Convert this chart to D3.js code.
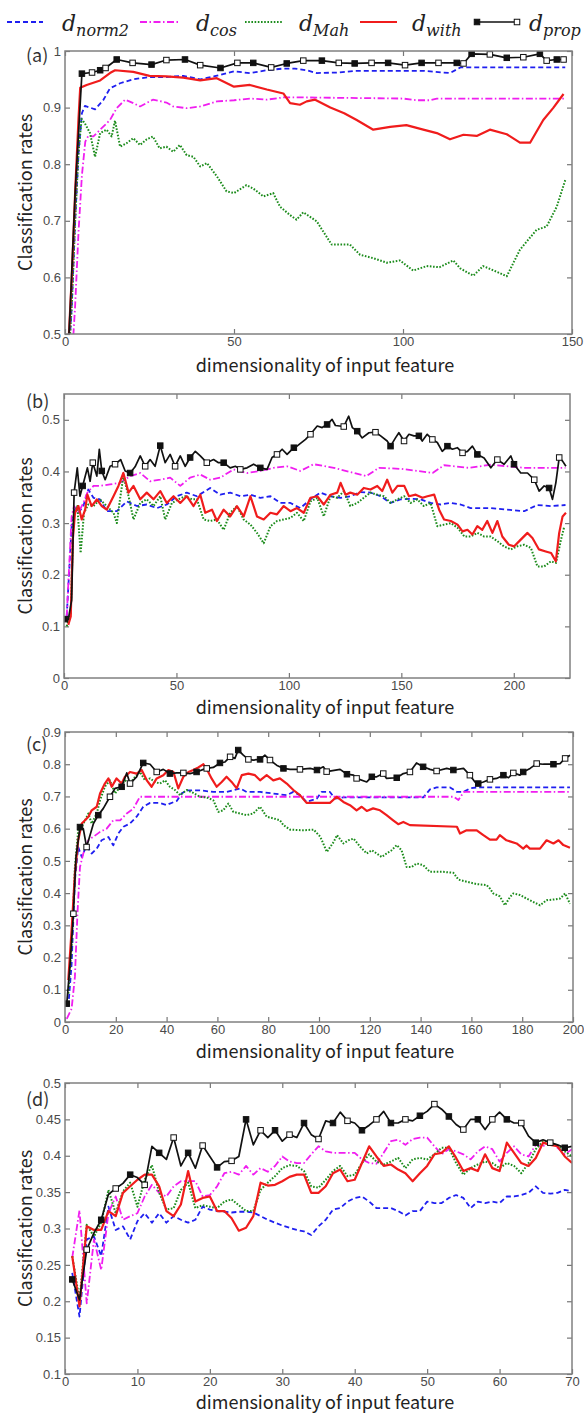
<!DOCTYPE html>
<html>
<head>
<meta charset="utf-8">
<script src="https://cdn.jsdelivr.net/npm/d3@7"></script>
<style>
  body { margin: 0; background: #fff; }
  svg { display: block; }
</style>
</head>
<body>
<div id="chart"></div>
<script>
// ---------- données ----------

// (a) : paires [dimension, taux]
const aNorm = [[1,0.45],[2,0.55],[3,0.7],[4,0.82],[5,0.89],[5.9,0.903],[8.9,0.897],[11.3,0.913],[13.3,0.934],[16.3,0.943],[20.2,0.95],[25,0.954],[30,0.954],[35,0.956],[40,0.95],[44,0.955],[50,0.964],[54.7,0.961],[59.7,0.966],[64.6,0.969],[68,0.969],[71.5,0.966],[74.5,0.961],[81,0.962],[86,0.965],[96,0.965],[106,0.965],[113.9,0.961],[117,0.971],[125.7,0.971],[148,0.971]];
const aCos = [[2,0.45],[3,0.55],[4,0.68],[5,0.78],[6,0.84],[6.9,0.85],[8.4,0.849],[10.4,0.861],[13.3,0.878],[15.3,0.899],[17.8,0.914],[20.2,0.908],[22.2,0.902],[26,0.914],[30,0.909],[32,0.902],[36,0.899],[40,0.902],[45,0.911],[50,0.913],[54.7,0.916],[59.7,0.914],[64.6,0.918],[70,0.918],[100,0.916],[104,0.913],[108,0.913],[110,0.916],[148,0.916]];
const aMah = [[1,0.45],[2,0.55],[3,0.7],[4,0.82],[4.9,0.88],[5.9,0.872],[7.4,0.855],[8.9,0.813],[10.4,0.855],[12.3,0.861],[13.8,0.849],[14.8,0.877],[16.3,0.831],[18.2,0.837],[20.2,0.846],[22.2,0.834],[24.2,0.844],[26,0.849],[28,0.828],[30,0.831],[32,0.822],[34,0.834],[36,0.816],[38,0.813],[40,0.796],[42,0.802],[45,0.778],[47.8,0.752],[50,0.749],[53.7,0.763],[55.7,0.757],[58.7,0.743],[61.6,0.749],[63.6,0.725],[66.6,0.71],[68.5,0.702],[70.5,0.715],[74.5,0.699],[76.4,0.681],[78.9,0.658],[84.3,0.658],[87.3,0.64],[91.2,0.634],[95.2,0.626],[99.1,0.63],[103,0.612],[107,0.62],[110.8,0.618],[114.9,0.63],[116.9,0.616],[120.8,0.603],[123.7,0.62],[127.7,0.61],[130.7,0.602],[134.6,0.649],[139.5,0.684],[142.5,0.69],[145.5,0.725],[148,0.772]];
const aWith = [[1,0.48],[2,0.6],[3,0.75],[4,0.88],[4.5,0.935],[6.4,0.94],[10.4,0.948],[13.3,0.961],[14.8,0.966],[20.2,0.963],[25,0.956],[30,0.955],[35,0.953],[40,0.948],[44.9,0.952],[50,0.937],[54.7,0.94],[59.7,0.932],[64.6,0.925],[66.6,0.908],[69.5,0.905],[71.5,0.911],[74,0.914],[78.5,0.9],[82.6,0.89],[86.3,0.878],[91.2,0.861],[96.2,0.866],[101,0.869],[106,0.861],[110,0.855],[113.9,0.844],[117.9,0.852],[121.8,0.85],[125.7,0.861],[130.7,0.853],[134.6,0.838],[137.6,0.838],[141.5,0.878],[144.4,0.899],[147.5,0.924]];
const aProp = [[1,0.48],[1.5,0.54],[3,0.75],[5,0.96],[8,0.962],[10.4,0.966],[12,0.97],[15.3,0.985],[20,0.979],[25.6,0.976],[30,0.984],[35.5,0.985],[40,0.975],[46,0.97],[51,0.979],[55.7,0.979],[61,0.971],[65.6,0.978],[70.5,0.983],[76,0.983],[81,0.979],[85.7,0.978],[90.7,0.979],[95.6,0.979],[100.6,0.975],[105.5,0.979],[110.5,0.979],[115.9,0.979],[117.9,0.978],[120.3,0.995],[125.7,0.994],[130.7,0.988],[135.6,0.989],[140.5,0.995],[142.5,0.983],[145.5,0.985],[147.5,0.985]];

// (b)
const bNorm = [[1.2,0.119],[3.4,0.294],[4.9,0.326],[6.4,0.32],[8.6,0.333],[10.8,0.365],[13.1,0.349],[16,0.346],[19,0.323],[23.5,0.323],[27.9,0.342],[32.4,0.333],[36.8,0.336],[41.3,0.329],[45.7,0.336],[50.2,0.352],[54.6,0.359],[59.1,0.352],[65,0.368],[69.5,0.355],[73.9,0.359],[78.4,0.352],[82.9,0.355],[87.3,0.349],[91.8,0.352],[96.2,0.339],[100.7,0.339],[105.1,0.329],[109.6,0.346],[114,0.359],[118.5,0.352],[123,0.349],[127.3,0.352],[131.8,0.36],[136.3,0.359],[140.8,0.352],[145.2,0.339],[149.6,0.346],[154,0.347],[158.6,0.346],[163,0.339],[167.5,0.336],[171.9,0.339],[176.3,0.336],[180.8,0.329],[189.8,0.329],[204.6,0.323],[210.5,0.335],[216.5,0.333],[223,0.335]];
const bCos = [[1.2,0.119],[3.4,0.313],[4.5,0.333],[6.4,0.32],[8.6,0.339],[10.4,0.359],[13.1,0.372],[16,0.372],[20.5,0.375],[24.9,0.378],[29.4,0.391],[33.9,0.397],[38.3,0.381],[42.8,0.384],[47.2,0.388],[51.7,0.372],[56.1,0.388],[60.6,0.394],[65,0.384],[69.5,0.388],[75.4,0.404],[81.4,0.397],[87.3,0.401],[93.2,0.407],[99.2,0.41],[105.1,0.401],[111,0.414],[120,0.407],[134.5,0.391],[140,0.407],[150,0.405],[163.9,0.397],[169,0.412],[180,0.407],[189.8,0.413],[204.6,0.407],[223,0.407]];
const bMah = [[1.2,0.1],[3,0.126],[4.2,0.313],[5.9,0.333],[7.4,0.242],[8.9,0.32],[10.8,0.336],[13.1,0.333],[16,0.346],[19,0.333],[22,0.32],[23.5,0.3],[24.9,0.346],[26.4,0.391],[28.7,0.352],[30.9,0.307],[33.9,0.339],[36.8,0.346],[39.8,0.333],[42.8,0.352],[45,0.307],[48,0.339],[50.9,0.346],[53.9,0.352],[56.9,0.346],[59.1,0.346],[62.1,0.307],[65,0.304],[68,0.307],[71,0.287],[73.9,0.32],[76.9,0.333],[79.9,0.307],[82.9,0.297],[85.8,0.281],[88.8,0.261],[91.8,0.294],[94.7,0.304],[97.7,0.307],[100.7,0.31],[103.6,0.32],[106.6,0.304],[109.6,0.342],[112.6,0.349],[115.5,0.313],[118.5,0.352],[121.5,0.349],[124.5,0.362],[127.3,0.333],[130.4,0.339],[133.3,0.349],[136.3,0.359],[139.3,0.355],[142.3,0.352],[145.2,0.339],[148.3,0.346],[151.3,0.352],[154.1,0.339],[157.1,0.346],[160,0.333],[163,0.339],[166,0.294],[169,0.297],[172,0.3],[175,0.291],[178,0.274],[180.8,0.274],[183.8,0.281],[186.8,0.274],[189.7,0.274],[192.7,0.265],[195.6,0.255],[198.7,0.249],[201.6,0.255],[204.6,0.258],[207.6,0.252],[210.5,0.216],[213.5,0.216],[216.5,0.226],[218.8,0.223],[221,0.268],[222.5,0.294]];
const bWith = [[1.9,0.103],[3,0.119],[3.9,0.268],[4.9,0.32],[6.4,0.333],[7.9,0.307],[9.4,0.326],[10.4,0.355],[12.3,0.333],[14.6,0.346],[16.8,0.333],[19,0.326],[22,0.352],[24.2,0.372],[26.4,0.397],[28.7,0.359],[30.9,0.372],[33.9,0.346],[36.8,0.359],[39.8,0.346],[42.8,0.362],[45.7,0.339],[48.7,0.352],[51.7,0.339],[54.6,0.352],[57.6,0.333],[60.6,0.355],[62.8,0.32],[65.8,0.326],[68,0.304],[71,0.326],[73.9,0.313],[76.9,0.333],[79.9,0.313],[82.9,0.352],[85.8,0.313],[88.8,0.307],[91.8,0.32],[94.7,0.317],[97.7,0.333],[100.7,0.323],[103.6,0.329],[106.6,0.32],[109.6,0.349],[112.6,0.352],[115.5,0.336],[118.5,0.355],[121.5,0.359],[123,0.378],[125.2,0.355],[127.3,0.359],[130.4,0.355],[133.3,0.368],[136.3,0.365],[139.3,0.372],[141.5,0.362],[143.7,0.384],[146,0.359],[148.3,0.372],[151.3,0.372],[153.4,0.352],[156.4,0.355],[159.4,0.349],[161.6,0.352],[164.6,0.355],[166.8,0.326],[169,0.307],[172,0.304],[175,0.297],[177.2,0.284],[179.4,0.287],[181.6,0.278],[183.8,0.294],[186,0.287],[188.2,0.304],[190.5,0.281],[192.7,0.304],[194.9,0.274],[197.8,0.258],[200.2,0.255],[203.1,0.268],[206.1,0.281],[208.3,0.271],[211.2,0.249],[214.2,0.245],[216.6,0.242],[218.7,0.226],[220.2,0.281],[221.7,0.313],[223.2,0.32]];
const bProp = [[0.4,0.114],[1.9,0.113],[3.4,0.151],[4.5,0.359],[5.9,0.407],[7.1,0.352],[8.3,0.372],[10.4,0.407],[11.6,0.381],[12.8,0.417],[14.6,0.391],[15.7,0.443],[16.8,0.401],[18.3,0.384],[20.5,0.41],[22.7,0.414],[25.2,0.423],[27.2,0.401],[29.4,0.397],[31.6,0.409],[33.9,0.43],[36.1,0.41],[38.3,0.423],[40.5,0.41],[42.8,0.45],[45,0.417],[47.2,0.433],[49.4,0.41],[51.7,0.43],[53.9,0.41],[56.1,0.427],[58.4,0.439],[60.6,0.43],[63.5,0.417],[66.5,0.423],[68.7,0.417],[71,0.417],[73.9,0.407],[76.2,0.41],[78.4,0.404],[81.4,0.407],[84.3,0.414],[87.3,0.407],[90.3,0.404],[92.5,0.427],[94.7,0.433],[97,0.443],[99.2,0.433],[102.2,0.446],[103.6,0.449],[107.4,0.462],[109.6,0.472],[112.6,0.488],[114.8,0.485],[117,0.491],[119.2,0.501],[120.7,0.489],[124.4,0.487],[126.6,0.507],[128.2,0.485],[130.4,0.478],[132.6,0.465],[135.6,0.475],[138.5,0.476],[140.8,0.469],[143.7,0.459],[145.2,0.449],[147.4,0.465],[148.9,0.475],[151.2,0.459],[153.4,0.472],[155.6,0.469],[157.8,0.469],[159.3,0.459],[161.5,0.472],[163.8,0.462],[166,0.456],[168.2,0.439],[170.5,0.449],[172.7,0.443],[174.9,0.446],[177.2,0.436],[179.4,0.439],[181.6,0.449],[183.8,0.433],[186.8,0.426],[189.8,0.407],[192.7,0.423],[195.7,0.414],[198.7,0.43],[200.1,0.414],[203.1,0.397],[206.1,0.397],[209.1,0.384],[211.3,0.362],[213.5,0.372],[215.7,0.368],[217.2,0.346],[218.7,0.378],[220.2,0.427],[221.7,0.42],[223.2,0.41]];

// (c)
const cNorm = [[1.3,0.047],[2.6,0.18],[3.9,0.44],[5.2,0.543],[6.6,0.512],[8.5,0.548],[10.5,0.523],[12.5,0.538],[14.4,0.564],[17.1,0.574],[19,0.548],[21,0.585],[23,0.606],[25.6,0.616],[28.2,0.637],[30.8,0.668],[33.5,0.68],[37.4,0.68],[40,0.673],[41.3,0.678],[44,0.686],[45.9,0.709],[47.9,0.719],[53.1,0.719],[58.4,0.714],[63.6,0.714],[68.9,0.725],[71.5,0.714],[76.8,0.714],[82,0.709],[87.3,0.704],[89.9,0.714],[92.5,0.704],[95.1,0.683],[99.1,0.693],[101,0.714],[104.3,0.714],[106.3,0.693],[109.6,0.697],[141.1,0.697],[143.7,0.722],[146.3,0.728],[151.6,0.728],[154.3,0.714],[156.9,0.714],[159.4,0.725],[162.1,0.728],[198.8,0.728]];
const cCos = [[0.7,0.01],[2.6,0.041],[3.9,0.14],[4.9,0.336],[5.9,0.481],[7.2,0.523],[9.2,0.565],[11.2,0.575],[13.8,0.59],[16.4,0.6],[19,0.626],[21.7,0.626],[24.3,0.647],[26.9,0.662],[29.5,0.699],[153,0.699],[154.9,0.689],[157,0.714],[198.8,0.714]];
const cMah = [[1.3,0.088],[2.6,0.233],[3.9,0.48],[5.2,0.595],[6.6,0.606],[7.9,0.626],[9.2,0.647],[10.5,0.616],[12.5,0.647],[13.8,0.688],[15.7,0.73],[17.7,0.75],[19.7,0.709],[21.7,0.73],[23.6,0.75],[25.6,0.74],[27.6,0.761],[29.5,0.776],[31.5,0.75],[33.5,0.756],[35.4,0.745],[37.4,0.74],[39.4,0.75],[41.3,0.73],[43.3,0.72],[45.3,0.704],[47.9,0.72],[50.5,0.711],[53.1,0.699],[55.8,0.697],[58.4,0.688],[60.4,0.652],[62.3,0.657],[64.3,0.678],[66.3,0.652],[68.9,0.647],[71.5,0.642],[74.1,0.647],[76.8,0.668],[79.4,0.637],[82,0.632],[84.6,0.626],[86,0.611],[88.6,0.597],[93.8,0.595],[97.9,0.597],[100.5,0.575],[103.1,0.528],[105.8,0.559],[107.1,0.58],[109.6,0.554],[111.6,0.564],[113.6,0.569],[116.3,0.543],[118.8,0.523],[120.8,0.533],[122.7,0.523],[124.7,0.512],[126.6,0.523],[128.6,0.533],[130.6,0.549],[132.5,0.533],[134.5,0.481],[136.5,0.481],[138.4,0.492],[141,0.487],[143.7,0.466],[148.9,0.466],[152.9,0.463],[154.9,0.442],[158.3,0.435],[162.1,0.428],[166,0.425],[167.3,0.414],[168.6,0.399],[171.2,0.39],[173.2,0.362],[175.2,0.388],[176.5,0.399],[179.1,0.394],[181.7,0.383],[184.3,0.373],[187,0.362],[189.6,0.378],[192.3,0.38],[194.9,0.383],[196.9,0.399],[198.8,0.367]];
const cWith = [[1.3,0.13],[2.6,0.285],[3.9,0.46],[5.2,0.564],[6.6,0.616],[7.9,0.626],[9.2,0.637],[10.5,0.657],[12.5,0.668],[13.8,0.709],[15.7,0.74],[17.1,0.756],[18.4,0.73],[20.3,0.756],[22.3,0.74],[23.6,0.761],[25.6,0.776],[28.2,0.771],[30.2,0.782],[32.2,0.75],[34.1,0.73],[36.1,0.756],[38.7,0.766],[40.7,0.782],[42.7,0.776],[44.6,0.725],[46.6,0.761],[48.6,0.776],[50.5,0.782],[52.5,0.79],[54.5,0.8],[56.4,0.776],[57.7,0.756],[59.7,0.73],[61.7,0.745],[63.6,0.761],[65.6,0.745],[67.6,0.725],[69.6,0.766],[72.2,0.771],[74.8,0.766],[76.8,0.75],[79.4,0.766],[82,0.75],[84.6,0.756],[87.3,0.74],[89.9,0.72],[92.5,0.704],[95.1,0.68],[99.1,0.68],[104.3,0.68],[107,0.699],[109.6,0.683],[112.2,0.673],[114.8,0.657],[116.8,0.668],[118.8,0.655],[121.3,0.663],[124,0.657],[126.6,0.642],[129.2,0.626],[131.2,0.614],[133.2,0.621],[135.8,0.611],[154.3,0.606],[155.5,0.585],[158.1,0.595],[162.1,0.595],[164.7,0.58],[167.3,0.566],[169.9,0.566],[171.2,0.58],[173.8,0.564],[177.8,0.554],[180.4,0.538],[181.7,0.548],[183,0.538],[187,0.538],[189.6,0.564],[192.3,0.554],[194.3,0.564],[196.2,0.549],[198.8,0.541]];
const cProp = [[0.7,0.057],[2,0.18],[3.3,0.336],[4.3,0.51],[5.9,0.605],[7.2,0.6],[8.5,0.543],[11.2,0.616],[13.1,0.642],[15.1,0.663],[17.7,0.699],[19.7,0.725],[22.3,0.73],[24.3,0.773],[25.6,0.74],[28.2,0.761],[30.8,0.804],[33.5,0.8],[36.1,0.776],[38.7,0.784],[41.3,0.771],[44,0.773],[46.6,0.773],[49.2,0.771],[51.8,0.776],[54.5,0.784],[55.8,0.787],[58.4,0.79],[61,0.804],[63,0.807],[65,0.823],[66.9,0.818],[68.2,0.844],[70.2,0.828],[72.2,0.815],[74.1,0.813],[76.8,0.815],[78.7,0.828],[80.7,0.813],[83.3,0.797],[86,0.787],[88.6,0.784],[92.5,0.784],[96.5,0.787],[99.2,0.782],[101.7,0.792],[103,0.777],[108.3,0.784],[111,0.769],[113.6,0.766],[114.8,0.756],[118.8,0.745],[120.8,0.761],[122.7,0.761],[125.3,0.771],[126.6,0.756],[130.6,0.758],[133.2,0.771],[135.8,0.776],[138.4,0.804],[141,0.792],[143.7,0.784],[146.3,0.779],[150.3,0.787],[152.9,0.782],[156.9,0.787],[159.4,0.766],[161.4,0.745],[162.7,0.74],[164.7,0.745],[167.3,0.753],[169.9,0.756],[172.6,0.766],[174.6,0.758],[176.5,0.773],[179.1,0.766],[180.4,0.776],[183.1,0.787],[185.7,0.802],[188.3,0.8],[192.3,0.8],[194.9,0.802],[196.9,0.818],[198.8,0.828]];

// (d) : une valeur par dimension 1..70
const dDims = d3.range(1, 71);
const dNorm = [0.239,0.179,0.285,0.289,0.262,0.33,0.298,0.303,0.285,0.31,0.321,0.308,0.321,0.308,0.317,0.312,0.308,0.312,0.33,0.326,0.324,0.323,0.322,0.323,0.323,0.322,0.317,0.312,0.308,0.304,0.301,0.298,0.296,0.291,0.303,0.312,0.326,0.328,0.337,0.342,0.344,0.337,0.328,0.328,0.328,0.324,0.318,0.324,0.324,0.337,0.335,0.335,0.342,0.346,0.342,0.328,0.337,0.335,0.337,0.335,0.344,0.344,0.346,0.349,0.358,0.349,0.348,0.349,0.353,0.351];
const dCos = [0.26,0.325,0.197,0.285,0.243,0.321,0.344,0.312,0.317,0.321,0.344,0.36,0.349,0.344,0.358,0.365,0.365,0.365,0.344,0.346,0.358,0.376,0.378,0.374,0.386,0.374,0.383,0.378,0.386,0.399,0.392,0.39,0.39,0.402,0.413,0.406,0.404,0.404,0.404,0.404,0.395,0.39,0.389,0.404,0.42,0.422,0.415,0.423,0.425,0.425,0.413,0.402,0.409,0.406,0.402,0.395,0.406,0.413,0.409,0.392,0.404,0.413,0.402,0.399,0.415,0.413,0.42,0.411,0.402,0.409];
const dMah = [0.262,0.202,0.305,0.289,0.308,0.353,0.321,0.351,0.363,0.33,0.367,0.387,0.349,0.326,0.328,0.353,0.363,0.328,0.332,0.33,0.328,0.337,0.34,0.332,0.324,0.324,0.353,0.363,0.372,0.383,0.387,0.386,0.379,0.358,0.356,0.367,0.379,0.386,0.372,0.374,0.39,0.402,0.392,0.388,0.392,0.397,0.383,0.395,0.397,0.395,0.402,0.411,0.411,0.39,0.374,0.383,0.388,0.392,0.39,0.383,0.39,0.386,0.376,0.39,0.409,0.42,0.418,0.414,0.406,0.399];
const dWith = [0.262,0.193,0.303,0.298,0.298,0.324,0.317,0.349,0.358,0.367,0.374,0.374,0.358,0.324,0.317,0.333,0.379,0.337,0.342,0.344,0.324,0.324,0.314,0.297,0.301,0.317,0.363,0.359,0.36,0.365,0.371,0.374,0.374,0.349,0.349,0.358,0.376,0.381,0.365,0.367,0.39,0.413,0.399,0.386,0.388,0.381,0.376,0.365,0.376,0.386,0.402,0.404,0.413,0.397,0.379,0.383,0.379,0.402,0.383,0.379,0.418,0.404,0.39,0.386,0.397,0.418,0.415,0.413,0.399,0.39];
const dProp = [0.23,0.202,0.271,0.294,0.312,0.347,0.355,0.362,0.374,0.37,0.36,0.413,0.404,0.395,0.425,0.386,0.404,0.383,0.414,0.399,0.384,0.392,0.393,0.399,0.45,0.415,0.435,0.425,0.435,0.42,0.429,0.425,0.445,0.429,0.423,0.448,0.445,0.46,0.448,0.445,0.435,0.442,0.45,0.461,0.445,0.445,0.45,0.448,0.455,0.461,0.471,0.464,0.454,0.443,0.436,0.45,0.45,0.436,0.45,0.46,0.45,0.445,0.445,0.427,0.418,0.422,0.418,0.415,0.411,0.413];

// graduations
const aXTicks = [0, 50, 100, 150];
const aYTicks = [0.5, 0.6, 0.7, 0.8, 0.9, 1];
const bXTicks = [0, 50, 100, 150, 200];
const bYTicks = [0, 0.1, 0.2, 0.3, 0.4, 0.5];
const cXTicks = d3.range(0, 201, 20);
const cYTicks = d3.range(0, 10).map(i => i / 10);
const dXTicks = d3.range(0, 71, 10);
const dYTicks = d3.range(2, 11).map(i => i / 20);

const legendNames = ['norm2', 'cos', 'Mah', 'with', 'prop'];

// ---------- styles ----------
const styles = {
    norm2: { color: '#1f1ff0', width: 1.8, dash: '5,3' },
    cos:   { color: '#f01ef0', width: 1.8, dash: '7,2.5,1.5,2.5' },
    Mah:   { color: '#1c8c1c', width: 2, dash: '1.6,1.6' },
    with:  { color: '#f01c1c', width: 2.2, dash: null },
    prop:  { color: '#111111', width: 1.7, dash: null }
};

const W = 584, H = 1414;
const svg = d3.select('#chart').append('svg')
    .attr('width', W)
    .attr('height', H);

const tickFont = '"Liberation Sans", Arial, sans-serif';
const labelFont = '"Noto Sans CJK KR", "Noto Sans", sans-serif';

// tagDy : position verticale de "(a)".. sous le haut du cadre
const panels = [
    { tag: '(a)', left: 65, right: 572, top: 51, bottom: 334, xDom: [0, 150], yDom: [0.5, 1],
      xTicks: aXTicks, yTicks: aYTicks, markFrom: 3, markStep: 1, xlab: 38, tagDy: 11,
      series: { norm2: aNorm, cos: aCos, Mah: aMah, with: aWith, prop: aProp } },
    { tag: '(b)', left: 64, right: 570, top: 394, bottom: 678, xDom: [0, 225], yDom: [0, 0.55],
      xTicks: bXTicks, yTicks: bYTicks, markFrom: 0, markStep: 3, xlab: 36, tagDy: 14,
      series: { norm2: bNorm, cos: bCos, Mah: bMah, with: bWith, prop: bProp } },
    { tag: '(c)', left: 65, right: 573, top: 732, bottom: 1022, xDom: [0, 200], yDom: [0, 0.9],
      xTicks: cXTicks, yTicks: cYTicks, markFrom: 0, markStep: 2, xlab: 36, tagDy: 19,
      series: { norm2: cNorm, cos: cCos, Mah: cMah, with: cWith, prop: cProp } },
    { tag: '(d)', left: 65, right: 572, top: 1083, bottom: 1374, xDom: [0, 70], yDom: [0.1, 0.5],
      xTicks: dXTicks, yTicks: dYTicks, markFrom: 0, markStep: 2, xlab: 35, tagDy: 23,
      series: {
          norm2: dDims.map((d, i) => [d, dNorm[i]]),
          cos: dDims.map((d, i) => [d, dCos[i]]),
          Mah: dDims.map((d, i) => [d, dMah[i]]),
          with: dDims.map((d, i) => [d, dWith[i]]),
          prop: dDims.map((d, i) => [d, dProp[i]])
      } }
];

const fmt = v => String(+v.toFixed(2));

panels.forEach((p, pi) => {
    const x = d3.scaleLinear().domain(p.xDom).range([p.left, p.right]);
    const y = d3.scaleLinear().domain(p.yDom).range([p.bottom, p.top]);
    const g = svg.append('g');

    // zone de découpe
    const clipId = 'clip' + pi;
    svg.append('clipPath').attr('id', clipId)
        .append('rect')
        .attr('x', p.left).attr('y', p.top)
        .attr('width', p.right - p.left).attr('height', p.bottom - p.top);

    // axes, ticks vers l'intérieur
    const tl = 5;
    g.append('g').attr('transform', `translate(0,${p.bottom})`)
        .call(d3.axisBottom(x).tickValues(p.xTicks).tickSizeInner(-tl).tickSizeOuter(0).tickPadding(3).tickFormat(fmt));
    g.append('g').attr('transform', `translate(0,${p.top})`)
        .call(d3.axisTop(x).tickValues(p.xTicks).tickSizeInner(-tl).tickSizeOuter(0).tickFormat(''));
    g.append('g').attr('transform', `translate(${p.left},0)`)
        .call(d3.axisLeft(y).tickValues(p.yTicks).tickSizeInner(-tl).tickSizeOuter(0).tickPadding(4).tickFormat(fmt));
    g.append('g').attr('transform', `translate(${p.right},0)`)
        .call(d3.axisRight(y).tickValues(p.yTicks).tickSizeInner(-tl).tickSizeOuter(0).tickFormat(''));

    g.selectAll('.domain').remove();
    g.selectAll('.tick line').attr('stroke', '#777').attr('stroke-width', 1.2);
    g.selectAll('.tick text')
        .attr('fill', '#4a4a4a')
        .style('font-family', tickFont)
        .style('font-size', '13px');

    // courbes
    const line = d3.line().x(d => x(d[0])).y(d => y(d[1]));
    const lines = g.append('g').attr('clip-path', `url(#${clipId})`);
    legendNames.forEach(name => {
        const st = styles[name];
        lines.append('path')
            .datum(p.series[name])
            .attr('d', line)
            .attr('fill', 'none')
            .attr('stroke', st.color)
            .attr('stroke-width', st.width)
            .attr('stroke-linejoin', 'round')
            .attr('stroke-dasharray', st.dash);
    });

    // marqueurs carrés sur d_prop
    const marks = p.series.prop.filter((d, i) => i >= p.markFrom && (i - p.markFrom) % p.markStep === 0);
    lines.selectAll('rect.mk')
        .data(marks)
        .join('rect')
        .attr('class', 'mk')
        .attr('x', d => x(d[0]) - 2.75)
        .attr('y', d => y(d[1]) - 2.75)
        .attr('width', 5.5)
        .attr('height', 5.5)
        .attr('fill', (d, i) => i % 2 ? '#fff' : '#111')
        .attr('stroke', '#111')
        .attr('stroke-width', 1);

    // cadre
    g.append('rect')
        .attr('x', p.left).attr('y', p.top)
        .attr('width', p.right - p.left).attr('height', p.bottom - p.top)
        .attr('fill', 'none')
        .attr('stroke', '#808080')
        .attr('stroke-width', 1.5);

    // étiquette du panneau
    g.append('text')
        .attr('x', 26).attr('y', p.top + p.tagDy)
        .style('font-family', labelFont)
        .style('font-size', '18px')
        .attr('fill', '#333')
        .text(p.tag);

    // titres des axes
    g.append('text')
        .attr('x', 325).attr('y', p.bottom + p.xlab)
        .attr('text-anchor', 'middle')
        .style('font-family', labelFont)
        .style('font-size', '18px')
        .attr('fill', '#222')
        .text('dimensionality of input feature');

    g.append('text')
        .attr('transform', `translate(32,${(p.top + p.bottom) / 2}) rotate(-90)`)
        .attr('text-anchor', 'middle')
        .style('font-family', labelFont)
        .style('font-size', '18px')
        .attr('fill', '#222')
        .text('Classification rates');
});

// ---------- légende ----------
const legendItems = [
    { name: 'norm2', x1: 7, x2: 43, tx: 62 },
    { name: 'cos', x1: 140, x2: 180, tx: 196 },
    { name: 'Mah', x1: 245, x2: 283, tx: 299 },
    { name: 'with', x1: 360, x2: 397, tx: 412 },
    { name: 'prop', x1: 477, x2: 517, tx: 529 }
];
const lg = svg.append('g');
legendItems.forEach(it => {
    const st = styles[it.name];
    lg.append('line')
        .attr('x1', it.x1).attr('x2', it.x2)
        .attr('y1', 22).attr('y2', 22)
        .attr('stroke', st.color)
        .attr('stroke-width', st.width)
        .attr('stroke-dasharray', st.dash);
    if (it.name === 'prop') {
        lg.append('rect').attr('x', it.x1 - 2.75).attr('y', 19.25).attr('width', 5.5).attr('height', 5.5)
            .attr('fill', '#111').attr('stroke', '#111');
        lg.append('rect').attr('x', it.x2 - 2.75).attr('y', 19.25).attr('width', 5.5).attr('height', 5.5)
            .attr('fill', '#fff').attr('stroke', '#111');
    }
    const t = lg.append('text')
        .attr('x', it.tx).attr('y', 31)
        .style('font-family', '"DejaVu Serif", serif')
        .style('font-style', 'italic')
        .attr('fill', '#222');
    t.append('tspan').style('font-size', '22px').text('d');
    t.append('tspan').style('font-size', '16px').attr('dy', 5).text(it.name);
});
</script>
</body>
</html>
